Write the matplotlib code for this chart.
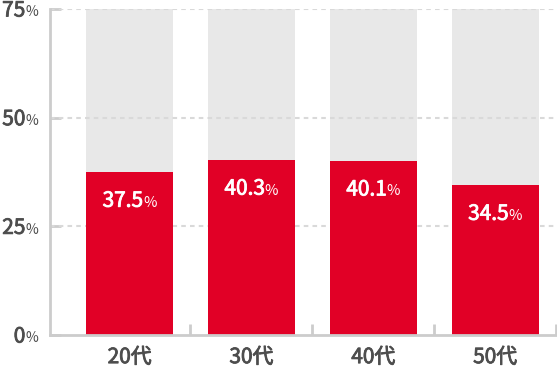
import matplotlib
matplotlib.use("Agg")
import matplotlib.pyplot as plt
import matplotlib.patheffects as pe
from matplotlib.transforms import offset_copy

plt.rcParams['font.family'] = ['Noto Sans CJK JP', 'DejaVu Sans']

categories = ["20代", "30代", "40代", "50代"]
values = [37.5, 40.3, 40.1, 34.5]
y_ticks = [0, 25, 50, 75]

RED = "#e10026"
GRAY = "#e8e8e8"
AXIS = "#cccccc"
GRID = "#d9d9d9"
TEXT = "#4d4d4d"

W, H = 557, 368
fig = plt.figure(figsize=(W / 100, H / 100), dpi=100)
ax = fig.add_axes([50 / W, (H - 335) / H, (556 - 50) / W, (335 - 9) / H])

x = list(range(len(categories)))
ax.bar(x, [75] * len(x), width=0.714, color=GRAY, zorder=1)
ax.bar(x, values, width=0.714, color=RED, zorder=3)

ax.set_xlim(-0.653, 3.5)
ax.set_ylim(0, 75)

# dashed grid (also over the gray bars)
for v in y_ticks[1:]:
    ax.axhline(v, color=GRID, lw=1.5, ls=(0, (2.2, 2.0)), zorder=2)

for s in ["top", "right"]:
    ax.spines[s].set_visible(False)
for s in ["left", "bottom"]:
    ax.spines[s].set_color(AXIS)
    ax.spines[s].set_linewidth(2)
    ax.spines[s].set_zorder(4)

medium_grey = [pe.withStroke(linewidth=0.6, foreground=TEXT)]
medium_white = [pe.withStroke(linewidth=0.6, foreground="white")]

ax.set_yticks(y_ticks)
ax.set_yticklabels([])
ax.tick_params(axis="y", direction="in", length=8, width=2, color=AXIS)

ax.set_xticks(x)
ax.set_xticklabels(categories, fontsize=15, color=TEXT)
for lbl in ax.get_xticklabels():
    lbl.set_path_effects(medium_grey)
ax.tick_params(axis="x", which="major", length=0, pad=8)
ax.set_xticks([0.5, 1.5, 2.5, 3.5], minor=True)
ax.tick_params(axis="x", which="minor", direction="in", length=8, width=2, color=AXIS)

fig.canvas.draw()
renderer = fig.canvas.get_renderer()


def text_width(s, size):
    t = fig.text(0, 0, s, fontsize=size)
    w = t.get_window_extent(renderer).width
    t.remove()
    return w


# y tick labels: number + small %
pct_w = text_width("%", 10)
for v in y_ticks:
    tr = ax.get_yaxis_transform()
    base = offset_copy(tr, fig=fig, x=-12, y=-7.5, units="dots")
    ax.text(0, v, "%", transform=base, ha="right", va="baseline",
            fontsize=10, color=TEXT, clip_on=False)
    num_tr = offset_copy(tr, fig=fig, x=-12 - pct_w, y=-7.5, units="dots")
    ax.text(0, v, str(v), transform=num_tr, ha="right", va="baseline",
            fontsize=15, color=TEXT, clip_on=False, path_effects=medium_grey)

# bar labels
for xi, v in zip(x, values):
    s = f"{v:.1f}"
    nw = text_width(s, 15)
    pw = text_width("%", 10.5)
    total = nw + pw
    tr = offset_copy(ax.transData, fig=fig, x=-total / 2, y=0, units="dots")
    ax.text(xi, v - 8.0, s, transform=tr, ha="left", va="baseline",
            fontsize=15, color="white", zorder=5, path_effects=medium_white)
    tr2 = offset_copy(ax.transData, fig=fig, x=-total / 2 + nw, y=0, units="dots")
    ax.text(xi, v - 8.0, "%", transform=tr2, ha="left", va="baseline",
            fontsize=10.5, color="white", zorder=5)

fig.savefig("out.png", dpi=100)
